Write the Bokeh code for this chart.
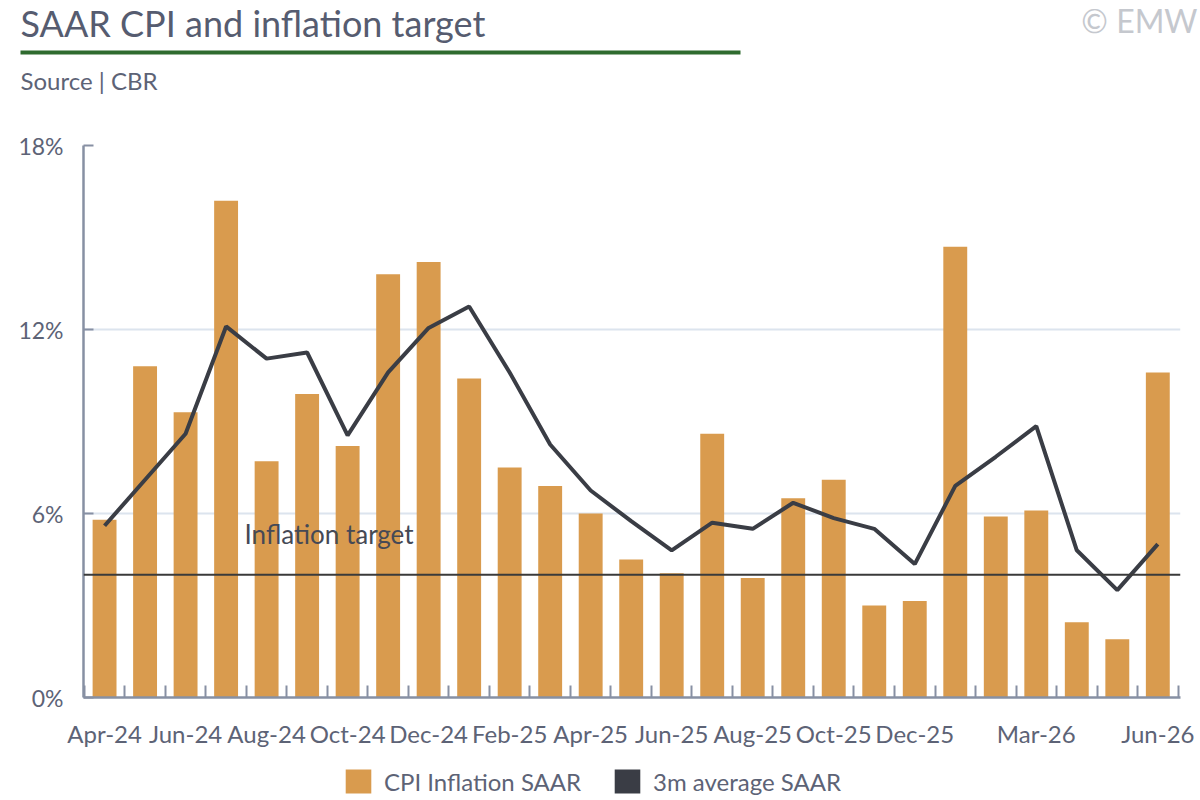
from bokeh.plotting import figure
from bokeh.models import (ColumnDataSource, Range1d, FixedTicker, PrintfTickFormatter,
                          Span, Label, Legend, LegendItem)
from bokeh.embed import file_html
from bokeh.resources import INLINE

# monthly data, Apr-24 .. Jun-26
months = ["Apr-24", "May-24", "Jun-24", "Jul-24", "Aug-24", "Sep-24", "Oct-24", "Nov-24",
          "Dec-24", "Jan-25", "Feb-25", "Mar-25", "Apr-25", "May-25", "Jun-25", "Jul-25",
          "Aug-25", "Sep-25", "Oct-25", "Nov-25", "Dec-25", "Jan-26", "Feb-26", "Mar-26",
          "Apr-26", "May-26", "Jun-26"]
cpi_saar = [5.8, 10.8, 9.3, 16.2, 7.7, 9.9, 8.2, 13.8, 14.2, 10.4, 7.5, 6.9, 6.0, 4.5,
            4.05, 8.6, 3.9, 6.5, 7.1, 3.0, 3.15, 14.7, 5.9, 6.1, 2.45, 1.9, 10.6]
avg_3m = [5.6, 7.1, 8.6, 12.1, 11.05, 11.25, 8.55, 10.6, 12.05, 12.75, 10.6, 8.25, 6.75,
          5.75, 4.8, 5.7, 5.5, 6.35, 5.85, 5.5, 4.35, 6.9, 7.85, 8.85, 4.8, 3.5, 5.0]
target = 4.0
label_months = ["Apr-24", "Jun-24", "Aug-24", "Oct-24", "Dec-24", "Feb-25", "Apr-25",
                "Jun-25", "Aug-25", "Oct-25", "Dec-25", "Mar-26", "Jun-26"]
y_ticks = [0, 6, 12, 18]

FONT = "Lato"
TXT = "#5d6376"
AXIS = "#8790a3"
ORANGE = "#d99b4e"
DARK = "#3a3d45"

xs = list(range(len(months)))
src = ColumnDataSource(data=dict(x=xs, cpi=cpi_saar, avg=avg_3m))


def blank(h):
    # figure whose frame is the whole canvas, y counted in pixels
    f = figure(width=1200, height=h, x_range=Range1d(0, 1200), y_range=Range1d(0, h),
               output_backend="svg", toolbar_location=None, min_border=0,
               x_axis_type=None, y_axis_type=None)
    f.outline_line_color = None
    f.xgrid.visible = False
    f.ygrid.visible = False
    return f


# header
head = blank(128)
head.add_layout(Label(x=20, y=128 - 22, text="SAAR CPI and inflation target",
                      text_font=FONT, text_font_size="36px", text_color="#565c70",
                      text_baseline="alphabetic"))
head.quad(left=[20], right=[740], top=[128 - 50], bottom=[128 - 54],
          fill_color="#2f6b2f", line_color=None)
head.add_layout(Label(x=20, y=128 - 80, text="Source | CBR", text_font=FONT,
                      text_font_size="24px", text_color=TXT, text_baseline="alphabetic"))
head.add_layout(Label(x=1197, y=128 - 20, text="© EMW", text_font=FONT,
                      text_font_size="32px", text_color="#c5c8ce", text_align="right",
                      text_baseline="alphabetic"))

# main chart
p = figure(width=1200, height=624, x_range=Range1d(-0.52, 26.56), y_range=Range1d(0, 18),
           output_backend="svg", toolbar_location=None,
           min_border_left=83, min_border_right=20, min_border_top=17, min_border_bottom=55)
p.outline_line_color = None

p.vbar(x="x", top="cpi", width=0.59, fill_color=ORANGE, line_color=None, source=src)
p.line("x", "avg", line_width=4, line_color=DARK, source=src)
p.add_layout(Span(location=target, dimension="width", line_color="#3a3a3a", line_width=2))
p.add_layout(Label(x=161, y=164, x_units="screen", y_units="screen",
                   text="Inflation target", text_font=FONT, text_baseline="alphabetic",
                   text_font_size="26px", text_color="#454955"))

label_idx = [months.index(m) for m in label_months]
p.xaxis.ticker = FixedTicker(ticks=label_idx, minor_ticks=[i + 0.5 for i in range(-1, 27)])
p.xaxis.major_label_overrides = {i: months[i] for i in label_idx}
p.xaxis.major_tick_in = 0
p.xaxis.major_tick_out = 0
p.xaxis.minor_tick_in = 12
p.xaxis.minor_tick_out = 0
p.xaxis.minor_tick_line_color = AXIS
p.xaxis.minor_tick_line_width = 2
p.xaxis.major_label_standoff = 21

p.yaxis.ticker = y_ticks
p.yaxis.formatter = PrintfTickFormatter(format="%d%%")
p.yaxis.major_tick_in = 10
p.yaxis.major_tick_out = 0
p.yaxis.minor_tick_line_color = None
p.yaxis.major_tick_line_color = AXIS
p.yaxis.major_tick_line_width = 2
p.yaxis.major_label_standoff = 20

for ax in (p.xaxis, p.yaxis):
    ax.axis_line_color = AXIS
    ax.axis_line_width = 2.5
    ax.major_label_text_font = FONT
    ax.major_label_text_color = TXT
p.xaxis.major_label_text_font_size = "24px"
p.yaxis.major_label_text_font_size = "23px"

p.xgrid.visible = False
p.ygrid.grid_line_color = "#dce4ee"
p.ygrid.grid_line_width = 2

# legend row (hidden stand-in renderers, only their swatches are shown)
foot = blank(48)
r_bar = foot.vbar(x="x", top="cpi", width=1, fill_color=ORANGE, line_color=None,
                  source=src, visible=False)
r_line = foot.vbar(x="x", top="avg", width=1, fill_color=DARK, line_color=None,
                   source=src, visible=False)
for item, loc in ((LegendItem(label="CPI Inflation SAAR", renderers=[r_bar]), (342, 4)),
                  (LegendItem(label="3m average SAAR", renderers=[r_line]), (611, 4))):
    foot.add_layout(Legend(items=[item], location=loc, glyph_width=32, glyph_height=30,
                           label_standoff=10, padding=0, margin=0,
                           border_line_color=None, background_fill_alpha=0,
                           inactive_fill_alpha=0,
                           label_text_font=FONT, label_text_font_size="24px",
                           label_text_color=TXT))

open("out.html", "w").write(file_html([head, p, foot], INLINE))
